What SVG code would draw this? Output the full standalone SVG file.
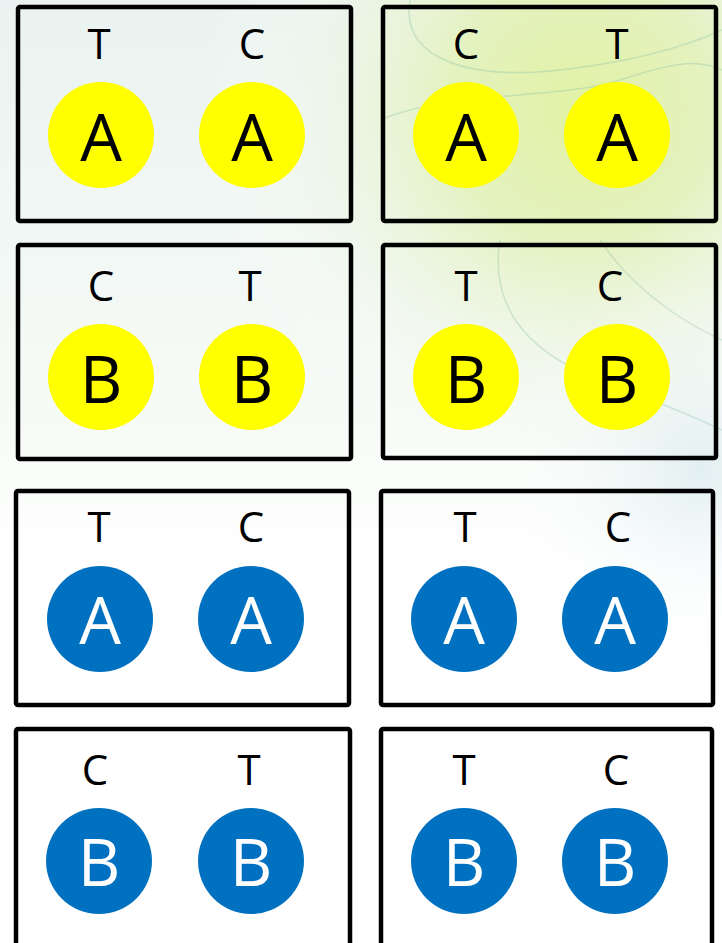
<svg xmlns="http://www.w3.org/2000/svg" width="722" height="943" viewBox="0 0 722 943">
  <defs>
    <radialGradient id="bgTR" cx="580" cy="110" r="380" gradientUnits="userSpaceOnUse">
      <stop offset="0" stop-color="#e2f2a4"/>
      <stop offset="0.35" stop-color="#e4f2c0"/>
      <stop offset="0.7" stop-color="#eef6e6" stop-opacity="0.5"/>
      <stop offset="1" stop-color="#ffffff" stop-opacity="0"/>
    </radialGradient>
    <linearGradient id="bgL" x1="0" y1="0" x2="0" y2="1">
      <stop offset="0" stop-color="#eaf3f1"/>
      <stop offset="0.45" stop-color="#f7fbf7"/>
      <stop offset="0.6" stop-color="#ffffff"/>
    </linearGradient>
    <radialGradient id="bgB" cx="700" cy="470" r="200" gradientUnits="userSpaceOnUse">
      <stop offset="0" stop-color="#cfe4ea" stop-opacity="0.55"/>
      <stop offset="1" stop-color="#ffffff" stop-opacity="0"/>
    </radialGradient>
    <style>
      .box { fill: none; stroke: #000; stroke-width: 4.5; stroke-linejoin: round; }
      .lbl { font-family: "Open Sans", "Liberation Sans", sans-serif; font-size: 42px; fill: #000; text-anchor: middle; }
      .big { font-family: "Open Sans", "Liberation Sans", sans-serif; font-size: 66px; text-anchor: middle; }
      .y { fill: #ffff00; }
      .b { fill: #0070c0; }
      .yt { fill: #000; }
      .bt { fill: #fff; }
      .swirl { fill: none; stroke: #8cbfa8; stroke-width: 1.5; opacity: 0.35; }
    </style>
  </defs>
  <g id="background">
    <rect width="722" height="943" fill="#ffffff"/>
    <rect width="722" height="943" fill="url(#bgL)"/>
    <rect width="722" height="943" fill="url(#bgTR)"/>
    <rect width="722" height="943" fill="url(#bgB)"/>
    <path class="swirl" d="M410 0 C 400 60, 470 80, 560 70 S 700 40, 722 30"/>
    <path class="swirl" d="M380 120 C 450 90, 560 100, 620 80 S 700 60, 722 70"/>
    <path class="swirl" d="M500 240 C 490 300, 520 350, 600 380 S 700 420, 722 430"/>
    <path class="swirl" d="M600 240 C 640 300, 700 330, 722 340"/>
  </g>

  <g id="box-r1-left">
    <rect class="box" x="18" y="7" width="333" height="214" rx="2"/>
    <text class="lbl" x="99" y="59">T</text>
    <text class="lbl" x="252" y="59">C</text>
    <circle class="y" cx="101" cy="135" r="53"/>
    <circle class="y" cx="252" cy="135" r="53"/>
    <text class="big yt" x="101" y="161">A</text>
    <text class="big yt" x="252" y="161">A</text>
  </g>

  <g id="box-r1-right">
    <rect class="box" x="383" y="7" width="333" height="214" rx="2"/>
    <text class="lbl" x="466" y="59">C</text>
    <text class="lbl" x="617" y="59">T</text>
    <circle class="y" cx="466" cy="135" r="53"/>
    <circle class="y" cx="617" cy="135" r="53"/>
    <text class="big yt" x="466" y="161">A</text>
    <text class="big yt" x="617" y="161">A</text>
  </g>

  <g id="box-r2-left">
    <rect class="box" x="18" y="245" width="333" height="214" rx="2"/>
    <text class="lbl" x="101" y="301">C</text>
    <text class="lbl" x="250" y="301">T</text>
    <circle class="y" cx="101" cy="377" r="53"/>
    <circle class="y" cx="252" cy="377" r="53"/>
    <text class="big yt" x="101" y="403">B</text>
    <text class="big yt" x="252" y="403">B</text>
  </g>

  <g id="box-r2-right">
    <rect class="box" x="383" y="245" width="333" height="213" rx="2"/>
    <text class="lbl" x="466" y="301">T</text>
    <text class="lbl" x="610" y="301">C</text>
    <circle class="y" cx="466" cy="377" r="53"/>
    <circle class="y" cx="617" cy="377" r="53"/>
    <text class="big yt" x="466" y="403">B</text>
    <text class="big yt" x="617" y="403">B</text>
  </g>

  <g id="box-r3-left">
    <rect class="box" x="16" y="491" width="333" height="214" rx="2"/>
    <text class="lbl" x="99" y="542">T</text>
    <text class="lbl" x="251" y="542">C</text>
    <circle class="b" cx="100" cy="619" r="53"/>
    <circle class="b" cx="251" cy="619" r="53"/>
    <text class="big bt" x="100" y="644">A</text>
    <text class="big bt" x="251" y="644">A</text>
  </g>

  <g id="box-r3-right">
    <rect class="box" x="381" y="491" width="332" height="214" rx="2"/>
    <text class="lbl" x="465" y="542">T</text>
    <text class="lbl" x="618" y="542">C</text>
    <circle class="b" cx="464" cy="619" r="53"/>
    <circle class="b" cx="615" cy="619" r="53"/>
    <text class="big bt" x="464" y="644">A</text>
    <text class="big bt" x="615" y="644">A</text>
  </g>

  <g id="box-r4-left">
    <rect class="box" x="16" y="729" width="334" height="222" rx="2"/>
    <text class="lbl" x="95" y="785">C</text>
    <text class="lbl" x="249" y="785">T</text>
    <circle class="b" cx="99" cy="861" r="53"/>
    <circle class="b" cx="251" cy="861" r="53"/>
    <text class="big bt" x="99" y="886">B</text>
    <text class="big bt" x="251" y="886">B</text>
  </g>

  <g id="box-r4-right">
    <rect class="box" x="381" y="729" width="331" height="222" rx="2"/>
    <text class="lbl" x="464" y="785">T</text>
    <text class="lbl" x="616" y="785">C</text>
    <circle class="b" cx="464" cy="861" r="53"/>
    <circle class="b" cx="615" cy="861" r="53"/>
    <text class="big bt" x="464" y="886">B</text>
    <text class="big bt" x="615" y="886">B</text>
  </g>

  <g id="connectors"/>
</svg>
